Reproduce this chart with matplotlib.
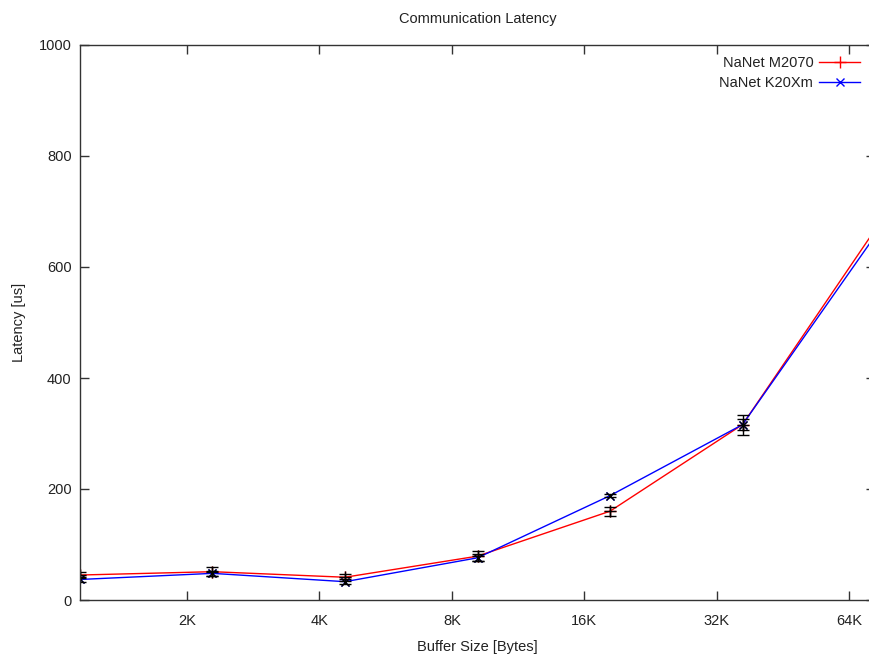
import numpy as np
import matplotlib
matplotlib.use("Agg")
import matplotlib.pyplot as plt

# buffer sizes (bytes)
sizes = [1171, 2342, 4685, 9370, 18740, 37480, 74960]
xtick_vals = [2048, 4096, 8192, 16384, 32768, 65536]
xtick_labels = ["2K", "4K", "8K", "16K", "32K", "64K"]

m2070 = [45, 51, 41, 79, 160, 316, 667]
m2070_err = [6, 8, 6, 9, 8, 18, 20]
k20xm = [37, 48, 33, 76, 188, 316, 656]
k20xm_err = [5, 5, 5, 6, 3, 10, 15]

plt.rcParams["font.family"] = ["Liberation Sans", "DejaVu Sans"]
plt.rcParams["font.size"] = 10.5

fig = plt.figure(figsize=(8.69, 6.62), dpi=100)
ax = fig.add_axes([80 / 869, 62 / 662, 795 / 869, 555 / 662])

ax.plot(sizes, m2070, color="#ff0000", lw=1, marker="+", ms=8, mew=1,
        label="NaNet M2070")
ax.plot(sizes, k20xm, color="#0000ff", lw=1, marker="x", ms=6, mew=1,
        label="NaNet K20Xm")
ax.errorbar(sizes, m2070, yerr=m2070_err, fmt="+", color="black", ms=8,
            mew=1, elinewidth=1, capsize=4, capthick=1)
ax.errorbar(sizes, k20xm, yerr=k20xm_err, fmt="x", color="black", ms=6,
            mew=1, elinewidth=1, capsize=4, capthick=1)

ax.set_xscale("log", base=2)
ax.set_xlim(sizes[0], sizes[-1])
ax.set_xticks(xtick_vals)
ax.set_xticklabels(xtick_labels)
ax.xaxis.set_minor_locator(matplotlib.ticker.NullLocator())
ax.set_ylim(0, 1000)
ax.set_yticks([0, 200, 400, 600, 800, 1000])

ax.tick_params(direction="in", length=6.5, width=1, color="#333333",
               top=True, right=True, labelcolor="#222222")
ax.tick_params(axis="x", pad=10)
ax.tick_params(axis="y", pad=6)
for s in ax.spines.values():
    s.set_color("#333333")
    s.set_linewidth(1)

ax.set_title("Communication Latency", fontsize=10.5, color="#222222", pad=16)
ax.set_xlabel("Buffer Size [Bytes]", color="#222222", labelpad=9)
ax.set_ylabel("Latency [us]", color="#222222", labelpad=9)

ax.legend(loc="upper right", bbox_to_anchor=(860 / 869, 1 - 56 / 662),
          bbox_transform=fig.transFigure, borderaxespad=0, borderpad=0,
          frameon=False, markerfirst=False, handlelength=2.8, numpoints=1,
          handletextpad=0.4, labelspacing=0.42, labelcolor="#222222")

fig.savefig("out.png", dpi=100)
